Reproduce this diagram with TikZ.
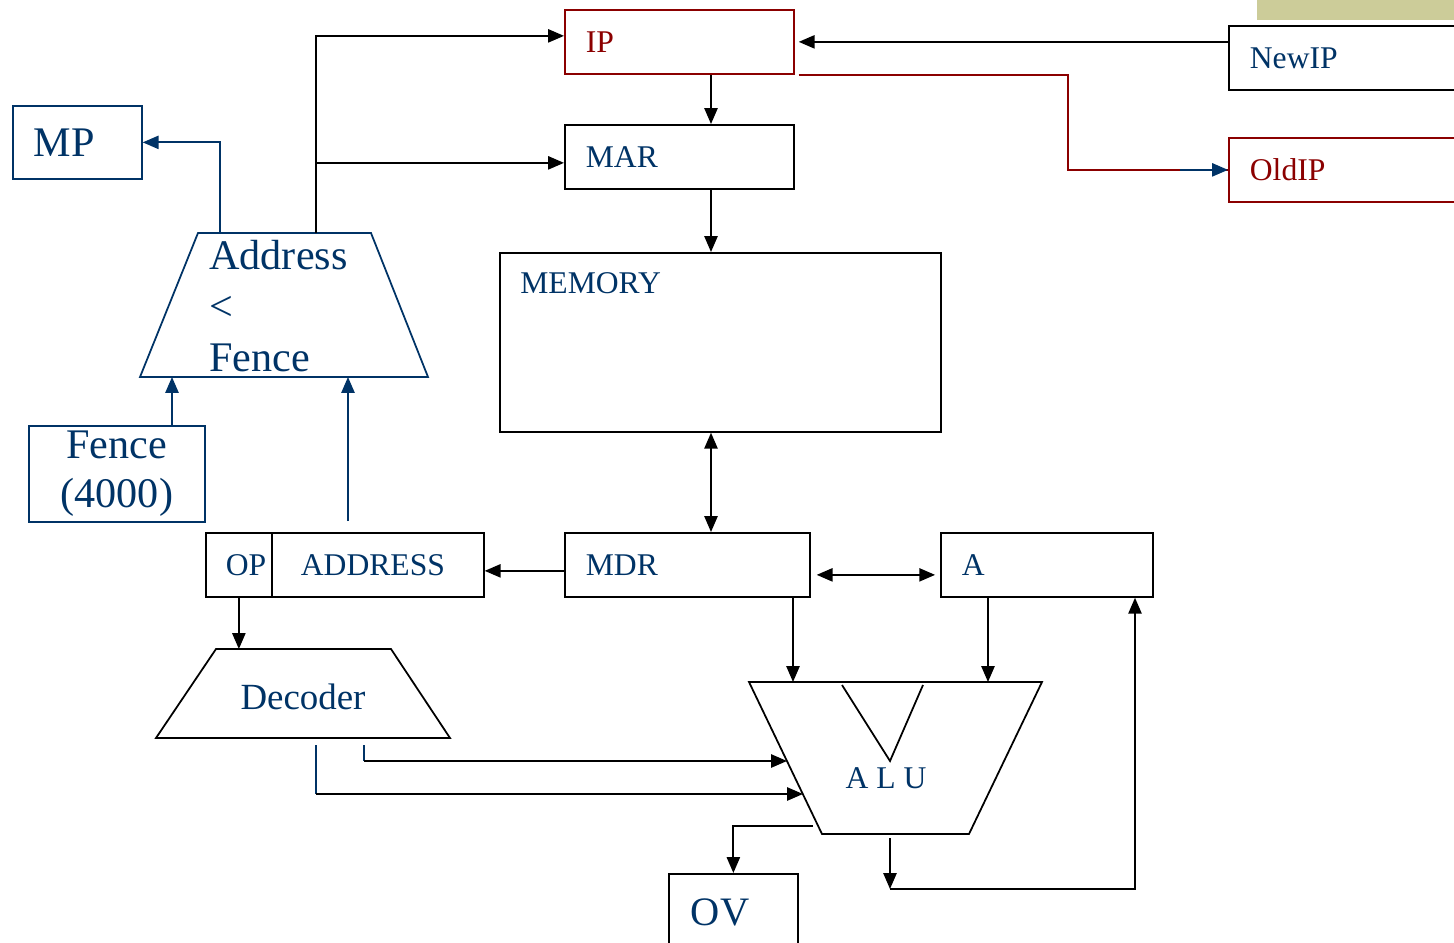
\documentclass[tikz,border=0pt]{standalone}
\usepackage{fontspec}
\setmainfont{Liberation Serif}
\usetikzlibrary{arrows.meta}
\definecolor{navytext}{RGB}{0,51,102}
\definecolor{darkred}{RGB}{139,0,0}
\definecolor{olivebar}{RGB}{204,204,153}
\begin{document}
\begin{tikzpicture}[x=0.02cm, y=-0.02cm,
  reg/.style={rectangle, draw=#1, line width=1pt, anchor=north west, minimum height=1.28cm,
    inner xsep=0.42cm, inner ysep=0pt, align=left, text=navytext, font=\fontsize{18}{22}\selectfont},
  reg/.default=black,
  big/.style={font=\fontsize{24}{28}\selectfont, text=navytext},
  lbl/.style={inner sep=0pt, text=navytext, font=\fontsize{18}{22}\selectfont},
  wire/.style={line width=1pt},
  arr/.style={-{Triangle[length=9pt,width=7.5pt]}, line width=1pt},
  dbl/.style={{Triangle[length=9pt,width=7.5pt]}-{Triangle[length=9pt,width=7.5pt]}, line width=1pt}
]
\useasboundingbox (0,0) rectangle (1454,943);
\fill[olivebar] (1257,0) rectangle (1454,20);

\node[reg=darkred, text=darkred, text width=3.74cm] (ip) at (564,9) {IP};
\node[reg, text width=3.74cm] (mar) at (564,124) {MAR};
\node[reg, minimum width=8.82cm, minimum height=3.58cm] (mem) at (499,252) {};
\node[lbl, anchor=west] (memlbl) at (520,283) {MEMORY};
\node[reg, text width=4.06cm] (mdr) at (564,532) {MDR};
\node[reg, text width=3.40cm] (areg) at (940,532) {A};
\node[reg, inner xsep=0.4cm, text width=0.52cm] (op) at (205,532) {OP};
\node[reg, inner xsep=0.58cm, text width=3.08cm] (addr) at (271,532) {ADDRESS};
\node[reg, text width=3.8cm] (newip) at (1228,25) {NewIP};
\node[reg=darkred, text=darkred, text width=3.8cm] (oldip) at (1228,137) {OldIP};
\node[reg=navytext, big, text width=1.74cm, minimum height=1.46cm] (mp) at (12,105) {MP};
\node[reg=navytext, big, align=center, text width=2.68cm, minimum height=1.92cm] (fence) at (28,425) {Fence\\(4000)};
\node[reg, big, font=\fontsize{23}{28}\selectfont, inner xsep=0.44cm, text width=1.7cm, minimum height=1.56cm] (ov) at (668,873) {OV};

\draw[navytext, wire] (198,233) -- (371,233) -- (428,377) -- (140,377) -- cycle;
\node[big, anchor=west, align=left, inner sep=0pt, font=\fontsize{24}{29}\selectfont] (cmptext) at (209,306) {Address\\<\\Fence};
\draw[wire] (216,649) -- (391,649) -- (450,738) -- (156,738) -- cycle;
\node[lbl, font=\fontsize{21}{25}\selectfont] (dectext) at (303,697) {Decoder};
\draw[wire] (749,682) -- (1042,682) -- (969,834) -- (822,834) -- cycle;
\draw[wire] (842,685) -- (890,761) -- (923,685);
\node[lbl] (alutext) at (886,778) {A L U};

\coordinate (busx) at (711,0);
\coordinate (fbx) at (1135,0);
\coordinate (oldx) at (1068,0);
\coordinate (cmp-o1) at (220,233);
\coordinate (cmp-o2) at (316,233);
\coordinate (cmp-in1) at (172,377);
\coordinate (cmp-in2) at (348,377);
\coordinate (addr-up) at (348,521);
\coordinate (dec-in) at (238,649);
\coordinate (dec-o1) at (364,745);
\coordinate (dec-o2) at (316,745);
\coordinate (alu-in1) at (793,682);
\coordinate (alu-in2) at (988,682);
\coordinate (alu-c1) at (787,761);
\coordinate (alu-c2) at (803,794);
\coordinate (alu-out) at (890,838);
\coordinate (alu-fb) at (890,889);
\coordinate (alu-ov) at (813,826);
\coordinate (ip-in) at ([yshift=0.12cm]ip.west);
\coordinate (mar-in) at ([yshift=-0.12cm]mar.west);

\draw[arr] (ip.south -| busx) -- (mar.north -| busx);
\draw[arr] (mar.south -| busx) -- (mem.north -| busx);
\draw[dbl] (mem.south -| busx) -- (mdr.north -| busx);
\draw[arr] ([yshift=-0.12cm]mdr.west) -- ([yshift=-0.12cm]addr.east);
\draw[dbl, shorten <=3.4pt, shorten >=2.8pt] ([yshift=-0.2cm]mdr.east) -- ([yshift=-0.2cm]areg.west);
\draw[arr] (mdr.south -| alu-in1) -- (alu-in1);
\draw[arr] (areg.south -| alu-in2) -- (alu-in2);
\draw[arr] (alu-out) -- (alu-fb);
\draw[arr] (alu-fb) -| (areg.south -| fbx);
\draw[arr] (alu-ov) -| (ov.north);
\draw[arr] (op.south) -- (op.south |- dec-in);
\draw[navytext, wire] (dec-o1) -- (dec-o1 |- alu-c1);
\draw[arr] (dec-o1 |- alu-c1) -- (alu-c1);
\draw[navytext, wire] (dec-o2) -- (dec-o2 |- alu-c2);
\draw[arr] (dec-o2 |- alu-c2) -- (alu-c2);
\draw[arr, navytext] (addr-up) -- (cmp-in2);
\draw[arr, navytext] (fence.north -| cmp-in1) -- (cmp-in1);
\draw[arr, navytext] (cmp-o1) |- (mp.east);
\draw[arr] (cmp-o2) |- (ip-in);
\draw[arr] (cmp-o2 |- mar-in) -- (mar-in);
\draw[arr, shorten >=2.3pt] (newip.west |- ip.east) -- (ip.east);
\draw[darkred, wire] ([xshift=0.08cm]ip.south east) -| (oldip.west -| oldx) -- (oldip.west);
\draw[arr, navytext] ([xshift=-0.96cm]oldip.west) -- (oldip.west);
\end{tikzpicture}
\end{document}
